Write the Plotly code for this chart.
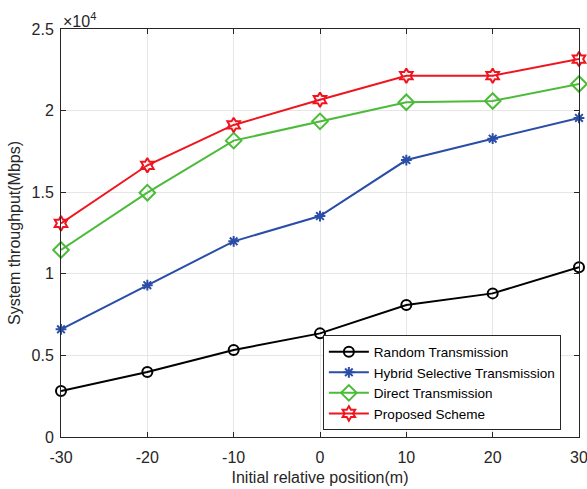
import plotly.graph_objects as go

x_pos = [-30, -20, -10, 0, 10, 20, 30]
random_tx = [2820, 3980, 5330, 6350, 8090, 8800, 10400]
hybrid_tx = [6600, 9300, 11990, 13540, 16970, 18280, 19550]
direct_tx = [11460, 14970, 18160, 19340, 20510, 20590, 21630]
proposed = [13090, 16650, 19120, 20670, 22140, 22140, 23160]

y_tickvals = [0, 5000, 10000, 15000, 20000, 25000]
y_ticktext = ["0", "0.5", "1", "1.5", "2", "2.5"]
x_tickvals = [-30, -20, -10, 0, 10, 20, 30]
x_ticktext = ["-30", "-20", "-10", "0", "10", "20", "30"]

series = [
    ("Random Transmission", random_tx, "#000000", "circle-open", 10),
    ("Hybrid Selective Transmission", hybrid_tx, "#2a4da8", "asterisk-open", 9),
    ("Direct Transmission", direct_tx, "#4dbb3a", "diamond-open", 12),
    ("Proposed Scheme", proposed, "#f0141e", "hexagram-open", 11),
]

FONT = "Liberation Sans, Arial, sans-serif"

fig = go.Figure()
for name, vals, color, sym, size in series:
    fig.add_trace(go.Scatter(
        x=x_pos, y=vals, name=name, mode="lines+markers", cliponaxis=False,
        line=dict(color=color, width=2),
        marker=dict(symbol=sym, size=size, color=color, line=dict(color=color, width=2)),
    ))

axis_common = dict(
    showline=True, linecolor="#262626", linewidth=1, mirror="ticks",
    ticks="inside", ticklen=5, tickcolor="#262626",
    showgrid=True, gridcolor="#e6e6e6", gridwidth=1, zeroline=False,
    ticklabeloverflow="allow",
    tickfont=dict(family=FONT, size=16, color="#262626"),
)

fig.update_xaxes(range=[-30, 30], tickvals=x_tickvals, ticktext=x_ticktext,
                 ticklabelstandoff=6,
                 title=dict(text="Initial relative position(m)", standoff=6,
                            font=dict(family=FONT, size=16, color="#262626")),
                 **axis_common)
fig.update_yaxes(range=[0, 25000], tickvals=y_tickvals, ticktext=y_ticktext,
                 ticklabelstandoff=3,
                 title=dict(text="System throughput(Mbps)", standoff=6,
                            font=dict(family=FONT, size=16, color="#262626")),
                 **axis_common)

fig.add_annotation(x=0, y=1, xref="paper", yref="paper", xanchor="left", yanchor="bottom",
                   text="×10<sup>4</sup>", showarrow=False,
                   font=dict(family=FONT, size=16, color="#262626"), yshift=-3)

fig.update_layout(
    width=587, height=489,
    margin=dict(l=61, r=8, t=29, b=52, autoexpand=False),
    paper_bgcolor="white", plot_bgcolor="white",
    legend=dict(x=0.965, y=0.016, xanchor="right", yanchor="bottom",
                bgcolor="white", bordercolor="#262626", borderwidth=1,
                font=dict(family=FONT, size=13.5, color="#000000"),
                tracegroupgap=0, itemwidth=40),
    showlegend=True,
)

fig.write_html("out.html", config={"displayModeBar": False},
               post_script="document.body.style.margin='0';")
